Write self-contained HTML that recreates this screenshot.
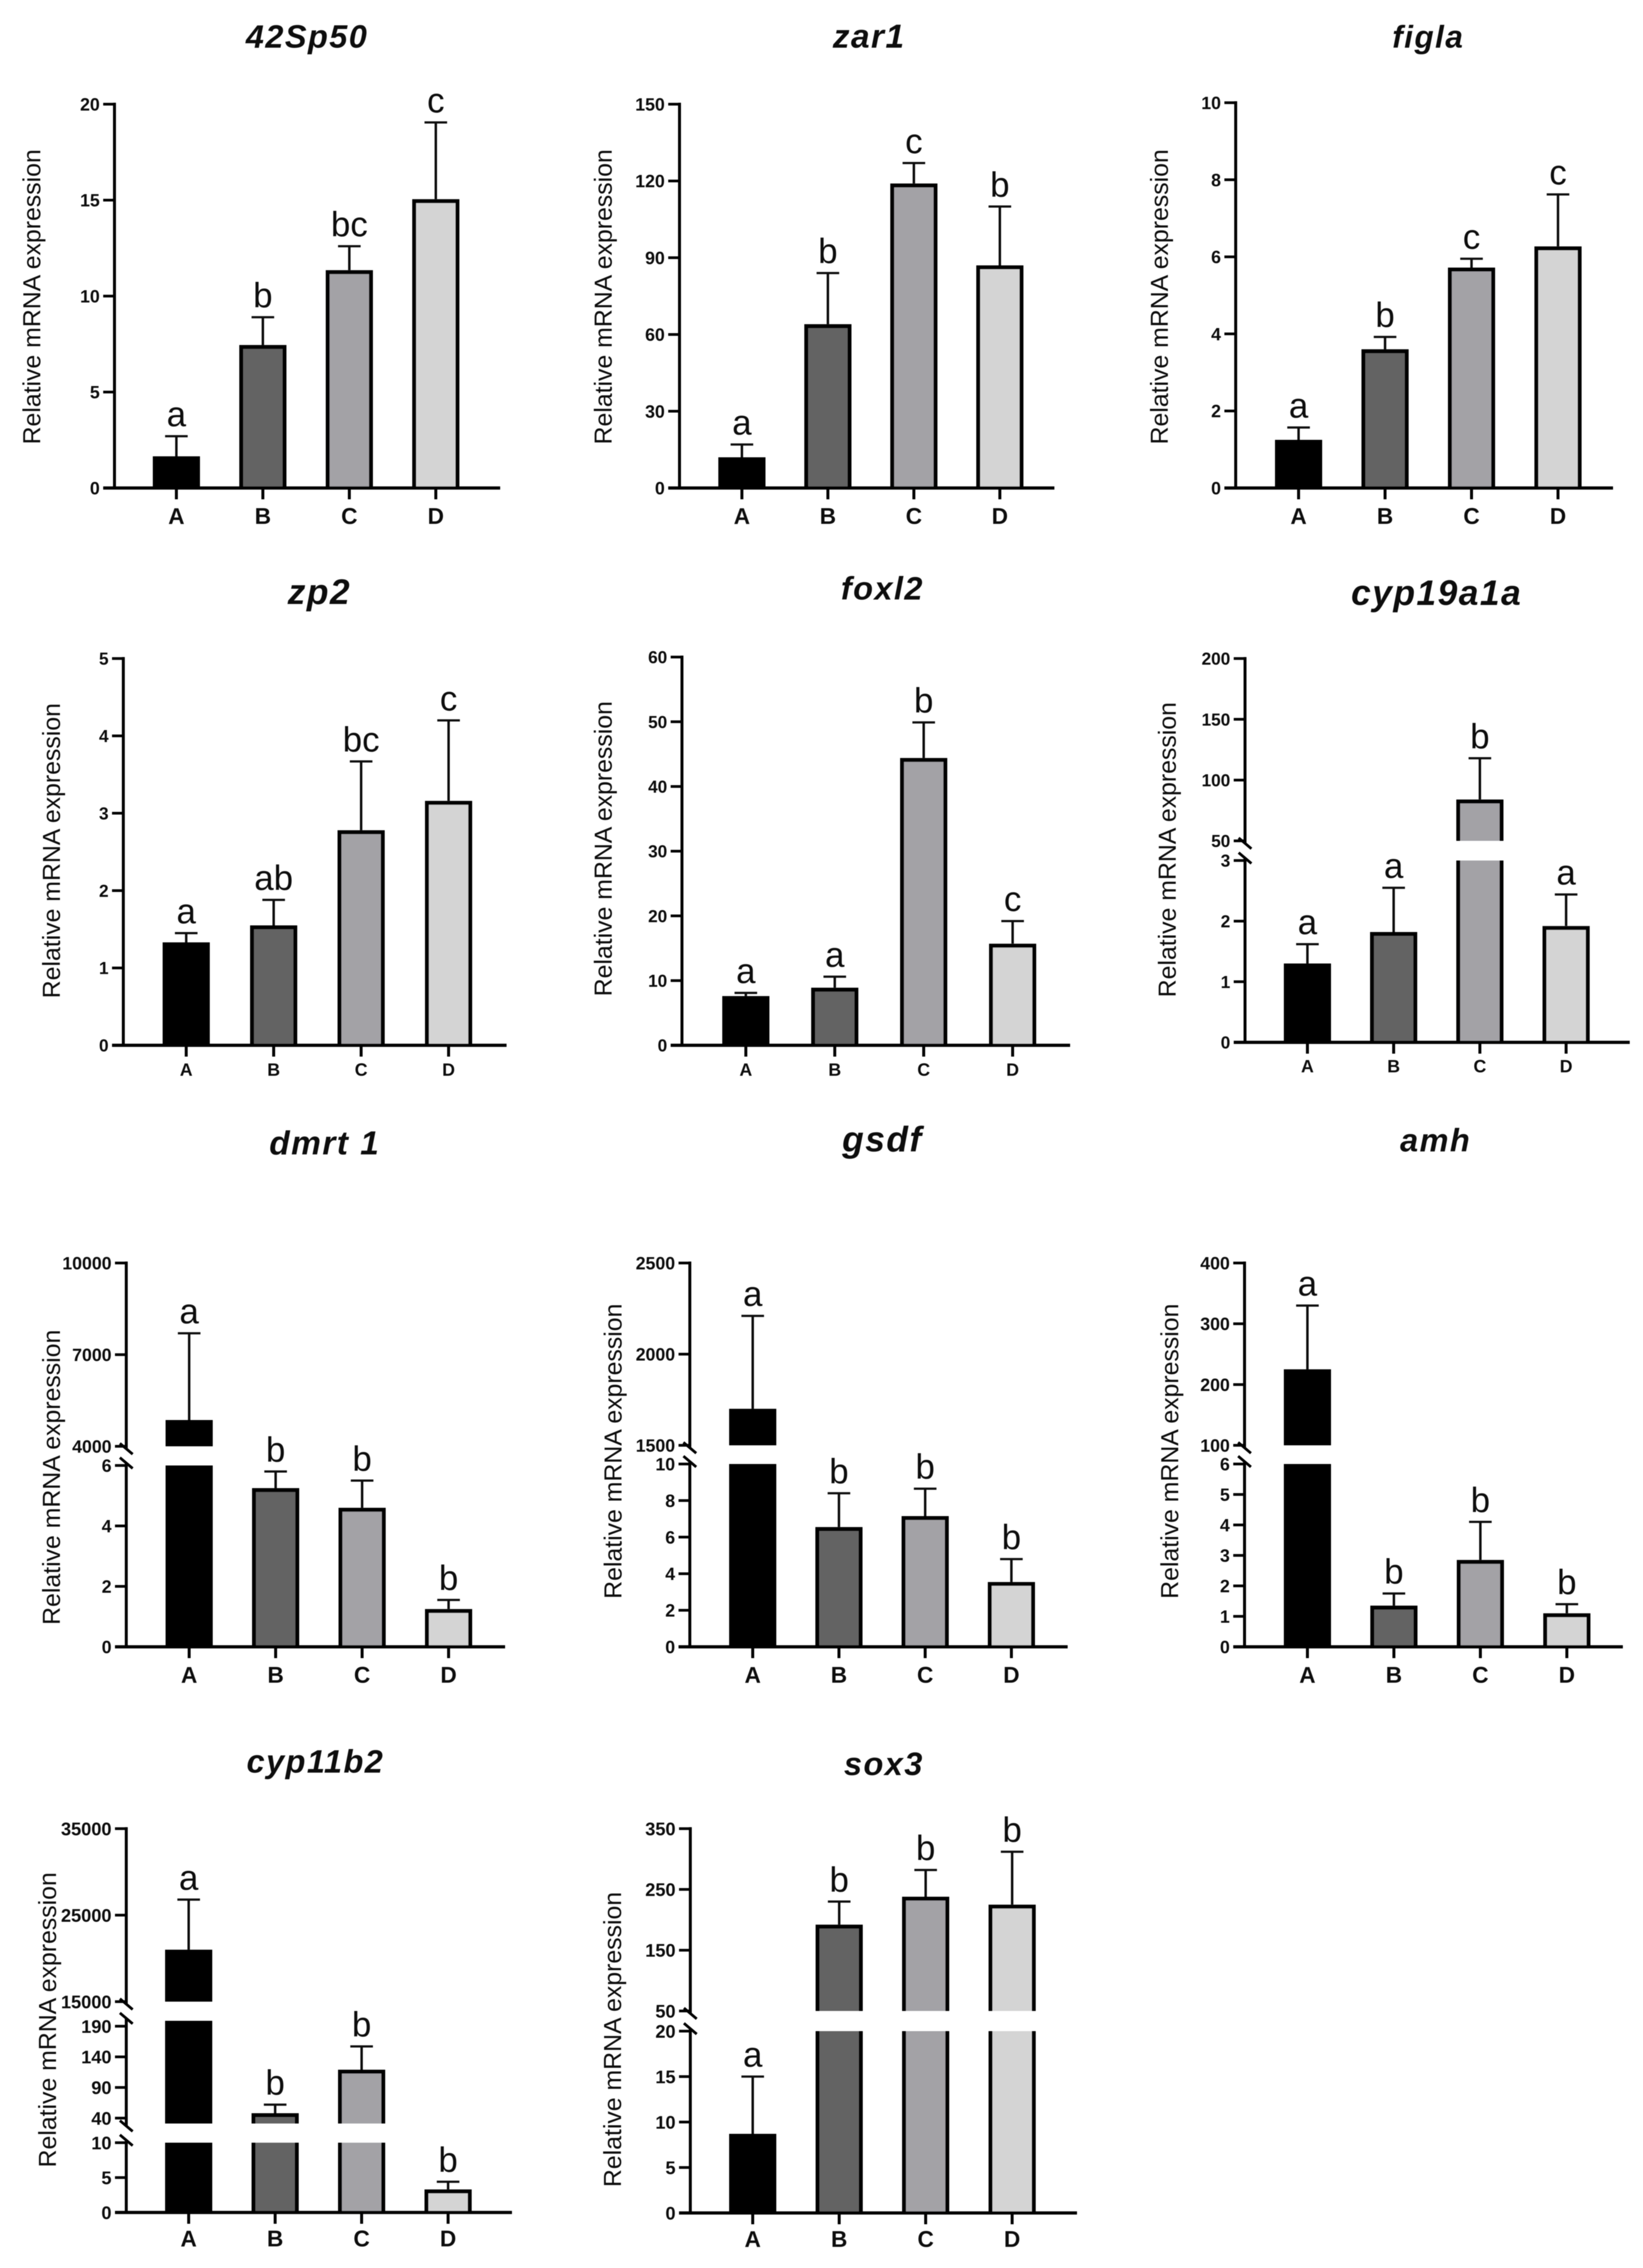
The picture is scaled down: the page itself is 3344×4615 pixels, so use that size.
<!DOCTYPE html>
<html lang="en">
<head>
<meta charset="utf-8">
<title>Relative mRNA expression by gene</title>
<style>
html,body{margin:0;padding:0;background:#fff;}
svg{display:block;}
text{font-family:"Liberation Sans",Arial,sans-serif;fill:#111;}
</style>
</head>
<body>
<svg id="fig" xmlns="http://www.w3.org/2000/svg" width="3344" height="4615" viewBox="0 0 3344 4615">
<defs><filter id="soft" x="0" y="0" width="100%" height="100%" filterUnits="userSpaceOnUse" primitiveUnits="userSpaceOnUse"><feGaussianBlur stdDeviation="0.9"/></filter></defs>
<rect width="3344" height="4615" fill="#fff"/>
<g id="root" filter="url(#soft)"></g>
</svg>
<script>
// ---- data ----
const categories = ['A', 'B', 'C', 'D'];

const values42Sp50 = [1.65, 7.45, 11.35, 15.05];
const errorTops42Sp50 = [2.7, 8.9, 12.6, 19.05];
const letters42Sp50 = ['a', 'b', 'bc', 'c'];
const ticks42Sp50 = [[0, 5, 10, 15, 20]];

const valuesZar1 = [12, 64, 119, 87];
const errorTopsZar1 = [17, 84, 127, 110];
const lettersZar1 = ['a', 'b', 'c', 'b'];
const ticksZar1 = [[0, 30, 60, 90, 120, 150]];

const valuesFigla = [1.25, 3.6, 5.72, 6.27];
const errorTopsFigla = [1.57, 3.92, 5.95, 7.62];
const lettersFigla = ['a', 'b', 'c', 'c'];
const ticksFigla = [[0, 2, 4, 6, 8, 10]];

const valuesZp2 = [1.33, 1.55, 2.78, 3.16];
const errorTopsZp2 = [1.45, 1.88, 3.67, 4.2];
const lettersZp2 = ['a', 'ab', 'bc', 'c'];
const ticksZp2 = [[0, 1, 2, 3, 4, 5]];

const valuesFoxl2 = [7.6, 8.9, 44.4, 15.7];
const errorTopsFoxl2 = [8.1, 10.6, 49.9, 19.2];
const lettersFoxl2 = ['a', 'a', 'b', 'c'];
const ticksFoxl2 = [[0, 10, 20, 30, 40, 50, 60]];

const valuesCyp19 = [1.3, 1.82, 84, 1.92];
const errorTopsCyp19 = [1.62, 2.55, 118, 2.44];
const lettersCyp19 = ['a', 'a', 'b', 'a'];
const ticksCyp19 = [[0, 1, 2, 3], [50, 100, 150, 200]];

const valuesDmrt1 = [4860, 5.25, 4.6, 1.25];
const errorTopsDmrt1 = [7700, 5.8, 5.5, 1.55];
const lettersDmrt1 = ['a', 'b', 'b', 'b'];
const ticksDmrt1 = [[0, 2, 4, 6], [4000, 7000, 10000]];

const valuesGsdf = [1700, 6.55, 7.15, 3.55];
const errorTopsGsdf = [2210, 8.4, 8.65, 4.8];
const lettersGsdf = ['a', 'b', 'b', 'b'];
const ticksGsdf = [[0, 2, 4, 6, 8, 10], [1500, 2000, 2500]];

const valuesAmh = [225, 1.35, 2.85, 1.1];
const errorTopsAmh = [330, 1.75, 4.1, 1.4];
const lettersAmh = ['a', 'b', 'b', 'b'];
const ticksAmh = [[0, 1, 2, 3, 4, 5, 6], [100, 200, 300, 400]];

const valuesCyp11 = [21000, 48, 119, 3.3];
const errorTopsCyp11 = [26800, 62, 157, 4.4];
const lettersCyp11 = ['a', 'b', 'b', 'b'];
const ticksCyp11 = [[0, 5, 10], [40, 90, 140, 190], [15000, 25000, 35000]];

const valuesSox3 = [8.7, 192, 238, 225];
const errorTopsSox3 = [15, 230, 282, 312];
const lettersSox3 = ['a', 'b', 'b', 'b'];
const ticksSox3 = [[0, 5, 10, 15, 20], [50, 150, 250, 350]];

const barFills = ['#000000', '#636363', '#a3a2a6', '#d4d4d4'];

// ---- panel frames (axes geometry, no data) ----
// bands: [y of first tick, y of last tick, clip bottom, clip top] in page pixels, one per axis segment
const panels = [
  {title:'42Sp50', ts:66, tx:625, ty:97, ylx:82, ylm:604, ax:233, end:1018, c0:359, step:176, xfs:46, xdy:73, tfs:36, bands:[[993,212]], v:values42Sp50, e:errorTops42Sp50, l:letters42Sp50, t:ticks42Sp50},
  {title:'zar1', ts:68, tx:1769, ty:97, ylx:1245, ylm:604, ax:1383, end:2146, c0:1510, step:175, xfs:46, xdy:73, tfs:36, bands:[[993,212]], v:valuesZar1, e:errorTopsZar1, l:lettersZar1, t:ticksZar1},
  {title:'figla', ts:64, tx:2907, ty:97, ylx:2377, ylm:604, ax:2515, end:3283, c0:2643, step:176, xfs:46, xdy:73, tfs:36, bands:[[993,209]], v:valuesFigla, e:errorTopsFigla, l:lettersFigla, t:ticksFigla},
  {title:'zp2', ts:72, tx:650, ty:1229, ylx:122, ylm:1731, ax:251, end:1031, c0:379, step:178, xfs:36, xdy:62, tfs:35, bands:[[2127,1340]], v:valuesZp2, e:errorTopsZp2, l:lettersZp2, t:ticksZp2},
  {title:'foxl2', ts:66, tx:1796, ty:1220, ylx:1245, ylm:1727, ax:1388, end:2178, c0:1518, step:181, xfs:36, xdy:62, tfs:35, bands:[[2127,1337]], v:valuesFoxl2, e:errorTopsFoxl2, l:lettersFoxl2, t:ticksFoxl2},
  {title:'cyp19a1a', ts:72, tx:2924, ty:1231, ylx:2393, ylm:1729, ax:2534, end:3317, c0:2661, step:175.5, xfs:36, xdy:61, tfs:35, bands:[[2121,1751],[1711,1340]], v:valuesCyp19, e:errorTopsCyp19, l:lettersCyp19, t:ticksCyp19},
  {title:'dmrt 1', ts:68, tx:661, ty:2349, ylx:122, ylm:3006, ax:257, end:1028, c0:385, step:176, xfs:46, xdy:73, tfs:36, bands:[[3351,2982],[2943,2570]], v:valuesDmrt1, e:errorTopsDmrt1, l:lettersDmrt1, t:ticksDmrt1},
  {title:'gsdf', ts:72, tx:1796, ty:2343, ylx:1265, ylm:2953, ax:1404, end:2173, c0:1532, step:175.5, xfs:46, xdy:73, tfs:36, bands:[[3351,2979],[2941,2570]], v:valuesGsdf, e:errorTopsGsdf, l:lettersGsdf, t:ticksGsdf},
  {title:'amh', ts:66, tx:2922, ty:2343, ylx:2398, ylm:2953, ax:2533, end:3303, c0:2661, step:176, xfs:46, xdy:73, tfs:36, bands:[[3351,2979],[2941,2570]], v:valuesAmh, e:errorTopsAmh, l:lettersAmh, t:ticksAmh},
  {title:'cyp11b2', ts:66, tx:642, ty:3607, ylx:114, ylm:4110, ax:257, end:1042, c0:384, step:176, xfs:46, xdy:69, tfs:37, bands:[[4502,4360],[4310,4123,4321,4112],[4073,3721]], v:valuesCyp11, e:errorTopsCyp11, l:lettersCyp11, t:ticksCyp11},
  {title:'sox3', ts:66, tx:1799, ty:3612, ylx:1264, ylm:4150, ax:1405, end:2192, c0:1532, step:176, xfs:46, xdy:69, tfs:37, bands:[[4503,4133],[4092,3721]], v:valuesSox3, e:errorTopsSox3, l:lettersSox3, t:ticksSox3}
];

const NS = 'http://www.w3.org/2000/svg';
const root = document.getElementById('root');

function make(parent, tag, props, text) {
  const n = document.createElementNS(NS, tag);
  for (const k in props) n.setAttribute(k, props[k]);
  if (text !== undefined) n.textContent = text;
  parent.appendChild(n);
  return n;
}

// axis functions
function bandIndex(p, value) {
  for (let k = p.t.length - 1; k > 0; k--) {
    if (value >= p.t[k][0]) return k;
  }
  return 0;
}
function yInBand(p, k, value) {
  const tk = p.t[k];
  const b = p.bands[k];
  const lo = tk[0];
  const hi = tk[tk.length - 1];
  return b[0] + (value - lo) / (hi - lo) * (b[1] - b[0]);
}
function clipBottom(p, k) { const b = p.bands[k]; return b.length > 2 ? b[2] : b[0]; }
function clipTop(p, k) { const b = p.bands[k]; return b.length > 2 ? b[3] : b[1]; }
function xBand(p, i) { return p.c0 + p.step * i; }

const BAR_W = 96, BAR_STROKE = 8, CAP_W = 46;

panels.forEach(function (p) {
  const g = make(root, 'g', {});
  
  

  const y0 = p.bands[0][0];

  const title = make(g, 'text', {x: p.tx, y: p.ty, 'text-anchor': 'middle', 'font-size': p.ts, 'font-weight': 'bold', 'font-style': 'italic', 'letter-spacing': 3}, p.title);
  
  

  const yTitle = make(g, 'text', {x: p.ylx, y: p.ylm, 'text-anchor': 'middle', 'font-size': 50.5, transform: 'rotate(-90 ' + p.ylx + ' ' + p.ylm + ')'}, 'Relative mRNA expression');
  
  

  // bars and error bars
  categories.forEach(function (cat, i) {
    const cx = xBand(p, i);
    const value = p.v[i];
    const k = bandIndex(p, value);
    const yVal = yInBand(p, k, value);
    const yErr = yInBand(p, k, p.e[i]);

    const stem = make(g, 'line', {x1: cx, x2: cx, y1: yVal, y2: yErr, stroke: '#111', 'stroke-width': 5});
    
    

    const cap = make(g, 'line', {x1: cx - CAP_W / 2, x2: cx + CAP_W / 2, y1: yErr, y2: yErr, stroke: '#111', 'stroke-width': 4.5});
    
    

    for (let j = 0; j <= k; j++) {
      const yb = clipBottom(p, j);
      const yt = j === k ? yVal : clipTop(p, j);
      const left = cx - BAR_W / 2;
      const fill = make(g, 'rect', {x: left, y: yt, width: BAR_W, height: Math.max(0, yb - yt), fill: barFills[i]});
      
      
      const inset = BAR_STROKE / 2;
      const d = j === k
        ? 'M' + (left + inset) + ' ' + yb + 'V' + (yt + inset) + 'H' + (left + BAR_W - inset) + 'V' + yb
        : 'M' + (left + inset) + ' ' + yb + 'V' + yt + 'M' + (left + BAR_W - inset) + ' ' + yb + 'V' + yt;
      const edge = make(g, 'path', {d: d, fill: 'none', stroke: '#000', 'stroke-width': BAR_STROKE});
      
      
    }

    const letter = make(g, 'text', {x: cx, y: yErr - 20, 'text-anchor': 'middle', 'font-size': 71}, p.l[i]);
    
    

    const xt = make(g, 'line', {x1: cx, x2: cx, y1: y0, y2: y0 + 23, stroke: '#000', 'stroke-width': 6});
    
    

    const xl = make(g, 'text', {x: cx, y: y0 + p.xdy, 'text-anchor': 'middle', 'font-size': p.xfs, 'font-weight': 'bold'}, cat);
    
    
  });

  // y axis segments, ticks, break marks
  p.t.forEach(function (tickList, k) {
    const last = k === p.t.length - 1;
    const axisBottom = k === 0 ? y0 + 3 : clipBottom(p, k) + 5;
    const axisTop = last ? clipTop(p, k) - 3 : clipTop(p, k) - 5;
    const seg = make(g, 'line', {x1: p.ax, x2: p.ax, y1: axisBottom, y2: axisTop, stroke: '#000', 'stroke-width': 6});
    
    

    tickList.forEach(function (tv) {
      const y = yInBand(p, k, tv);
      const tick = make(g, 'line', {x1: p.ax - 23, x2: p.ax, y1: y, y2: y, stroke: '#000', 'stroke-width': 5.5});
      
      
      const lab = make(g, 'text', {x: p.ax - 30, y: y + p.tfs * 0.36, 'text-anchor': 'end', 'font-size': p.tfs, 'font-weight': 'bold', fill: '#222'}, String(tv));
      
      
    });

    if (!last) {
      const m = make(g, 'line', {x1: p.ax - 13, x2: p.ax + 13, y1: clipTop(p, k) - 5 - 11, y2: clipTop(p, k) - 5 + 11, stroke: '#000', 'stroke-width': 5.5});
      
      
      const up = clipBottom(p, k + 1) + 5;
      const m2 = make(g, 'line', {x1: p.ax - 13, x2: p.ax + 13, y1: up - 11, y2: up + 11, stroke: '#000', 'stroke-width': 5.5});
      
      
    }
  });

  const xAxis = make(g, 'line', {x1: p.ax - 23, x2: p.end, y1: y0, y2: y0, stroke: '#000', 'stroke-width': 6.5});
  
  
});
</script>
</body>
</html>
